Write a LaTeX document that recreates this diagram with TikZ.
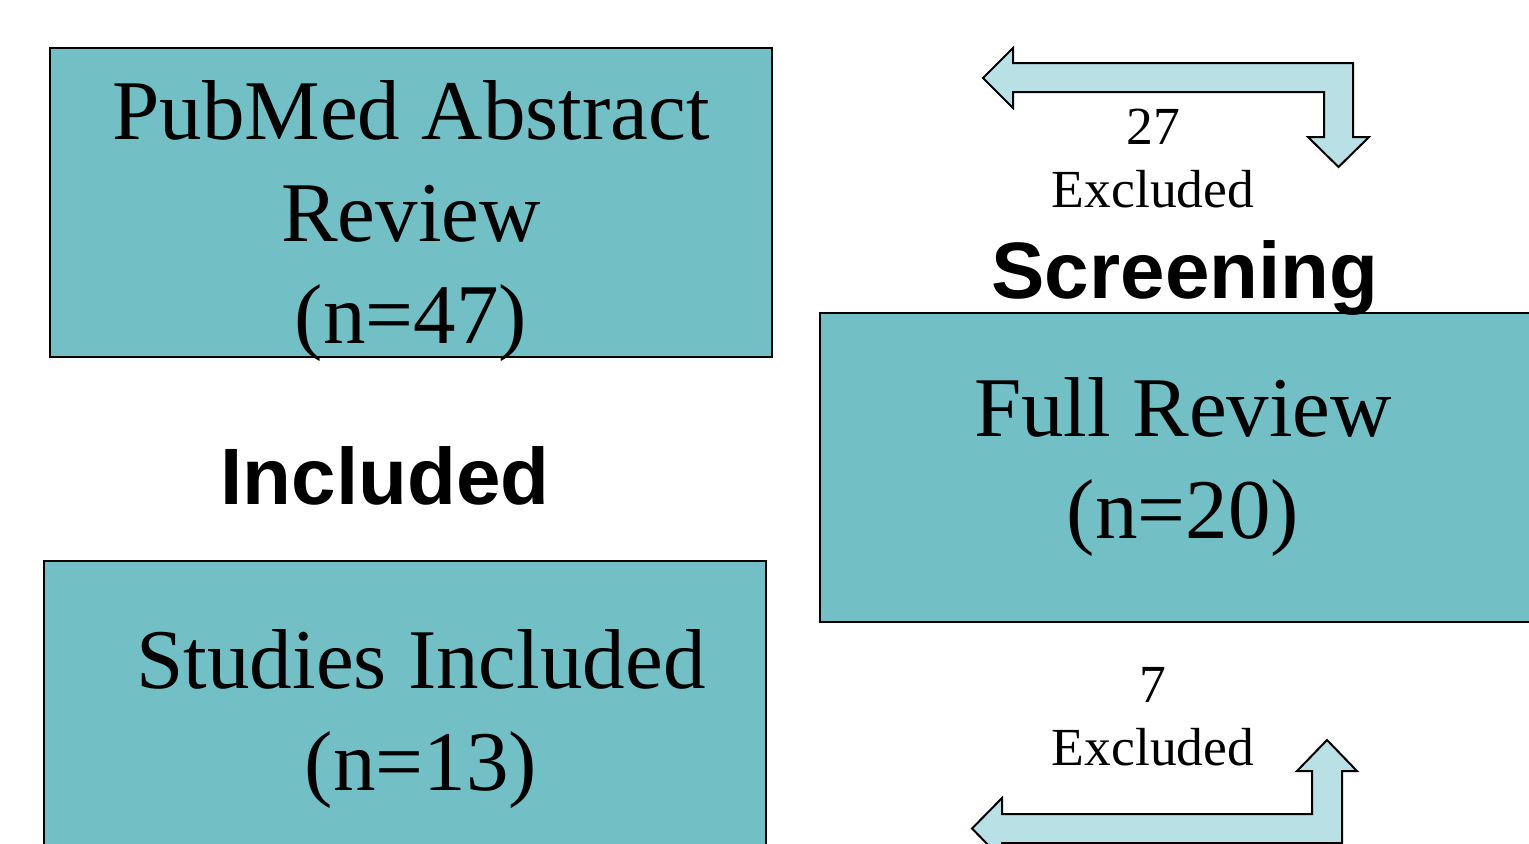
\documentclass[tikz,border=0pt]{standalone}
\usepackage{fontspec}
\setmainfont{Liberation Serif}
\setsansfont{Liberation Sans}
\usetikzlibrary{positioning}
\definecolor{cStage}{HTML}{72BFC5}
\definecolor{cExcl}{HTML}{B9E0E4}
\tikzset{
  stage/.style={rectangle, draw=black, line width=1pt, fill=cStage,
    minimum width=361pt, minimum height=154.5pt, inner sep=0pt},
  stagetext/.style={align=center, font=\fontsize{42.5}{51}\selectfont, inner sep=0pt},
  phase/.style={font=\sffamily\bfseries\fontsize{40}{48}\selectfont, inner sep=0pt},
  count/.style={align=center, font=\fontsize{26.8}{31.5}\selectfont, inner sep=0pt},
  bent/.style={draw=black, line width=1pt, fill=cExcl, line join=miter},
}

\begin{document}
\begin{tikzpicture}[x=0.5pt, y=-0.5pt]
\path[use as bounding box, clip] (0,0) rectangle (1529,843);
% stages
\node[stage] (abstract) at (411,202.5) {};
\node[stage] (full) at (1181,467.5) {};
\node[stage] (studies) at (405,715.5) {};
\node[stagetext] (abstractT) at (411,221) {PubMed Abstract\\Review\\(n=47)};
\node[stagetext] (fullT) at (1183,467) {Full Review\\(n=20)};
\node[stagetext] (studiesT) at (421,719) {Studies Included\\(n=13)};
% phase labels
\node[phase] (screening) at (1185,278) {Screening};
\node[phase] (included) at (385,476) {Included};
% exclusions
\node[count] (excl1) at (1153,159) {27\\Excluded};
\node[count] (excl2) at (1153,717) {7\\Excluded};
\draw[bent] (983,78) -- (1013,48) -- (1013,63) -- (1353,63) -- (1353,137) -- (1369,137)
  -- (1338.5,167) -- (1308,137) -- (1324,137) -- (1324,92) -- (1013,92) -- (1013,108) -- cycle;
\draw[bent] (1327,740) -- (1357,771) -- (1342,771) -- (1342,843) -- (1002,843) -- (1002,859)
  -- (972,828.5) -- (1002,798) -- (1002,814) -- (1312,814) -- (1312,771) -- (1297,771) -- cycle;
\end{tikzpicture}
\end{document}
